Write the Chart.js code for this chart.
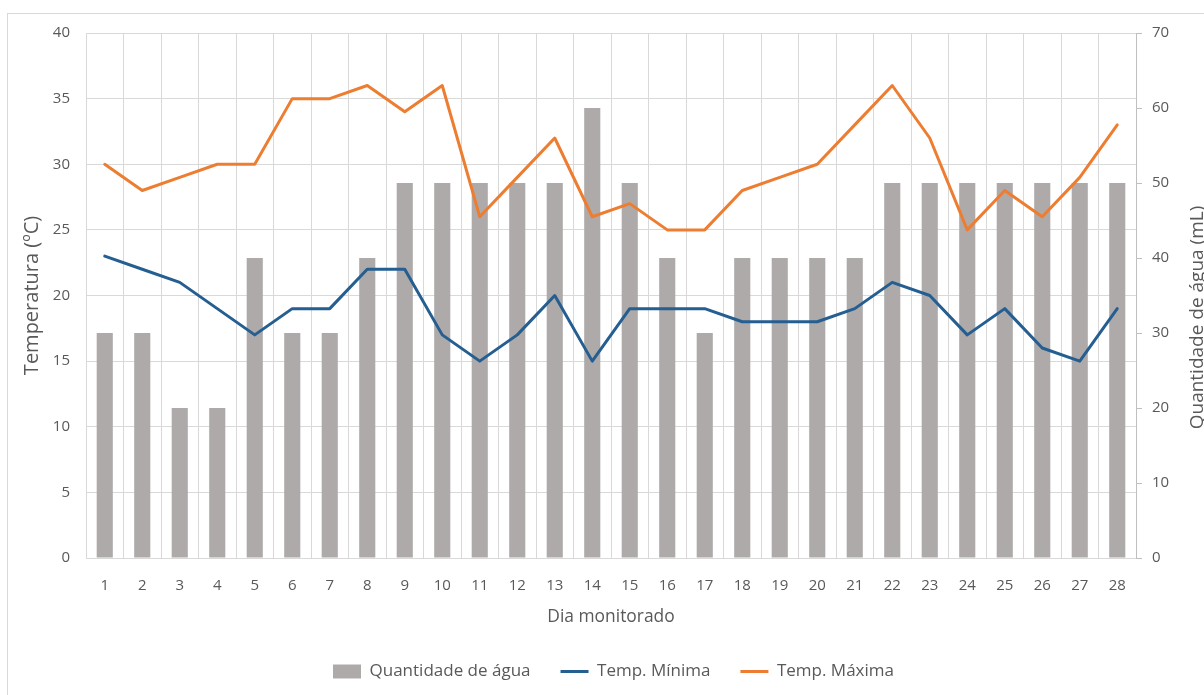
<!DOCTYPE html>
<html><head><meta charset="utf-8">
<script src="https://cdn.jsdelivr.net/npm/chart.js@4.4.0/dist/chart.umd.min.js"></script>
<style>
html,body{margin:0;padding:0;background:#fff;overflow:hidden;}
#frame{position:absolute;left:7px;top:13px;width:1400px;height:900px;border:1px solid #D9D9D9;box-sizing:border-box;}
#wrap{position:absolute;left:0;top:0;width:1204px;height:695px;}
</style></head><body>
<div id="frame"></div>
<div id="wrap"><canvas id="c" width="1204" height="695"></canvas></div>
<script>
const dias = ['1','2','3','4','5','6','7','8','9','10','11','12','13','14','15','16','17','18','19','20','21','22','23','24','25','26','27','28'];
const quantidadeAgua = [30,30,20,20,40,30,30,40,50,50,50,50,50,60,50,40,30,40,40,40,40,50,50,50,50,50,50,50];
const tempMinima = [23,22,21,19,17,19,19,22,22,17,15,17,20,15,19,19,19,18,18,18,19,21,20,17,19,16,15,19];
const tempMaxima = [30,28,29,30,30,35,35,36,34,36,26,29,32,26,27,25,25,28,29,30,33,36,32,25,28,26,29,33];

const FONT = '"Open Sans", "Noto Sans", sans-serif';
const TXT = '#595959';
const GRID = '#D9D9D9';

const rightTitle = {
  id: 'rightTitle',
  afterDraw(chart) {
    const ctx = chart.ctx; const s = chart.scales.y1;
    ctx.save();
    ctx.font = '19px ' + FONT;
    ctx.fillStyle = TXT;
    ctx.textAlign = 'center'; ctx.textBaseline = 'middle';
    ctx.translate(1198, (s.top + s.bottom) / 2 + 22);
    ctx.rotate(-Math.PI / 2);
    ctx.fillText('Quantidade de água (mL)', 0, 0);
    ctx.restore();
  }
};

new Chart(document.getElementById('c'), {
  type: 'bar',
  data: {
    labels: dias,
    datasets: [
      { type: 'bar', label: 'Quantidade de água', data: quantidadeAgua, yAxisID: 'y1',
        backgroundColor: '#AEAAAA', borderWidth: 0, barPercentage: 0.43, categoryPercentage: 1.0,
        pointStyle: 'rect', order: 2 },
      { type: 'line', label: 'Temp. Mínima', data: tempMinima, yAxisID: 'y',
        borderColor: '#255E91', backgroundColor: '#255E91', borderWidth: 3, pointRadius: 0, pointHoverRadius: 0,
        tension: 0, borderJoinStyle: 'round', borderCapStyle: 'round', pointStyle: 'line', order: 1 },
      { type: 'line', label: 'Temp. Máxima', data: tempMaxima, yAxisID: 'y',
        borderColor: '#ED7D31', backgroundColor: '#ED7D31', borderWidth: 3, pointRadius: 0, pointHoverRadius: 0,
        tension: 0, borderJoinStyle: 'round', borderCapStyle: 'round', pointStyle: 'line', order: 0 }
    ]
  },
  options: {
    responsive: false,
    devicePixelRatio: 1,
    animation: false,
    events: [],
    layout: { padding: { left: 23, right: 0, top: 33, bottom: 5 } },
    plugins: {
      tooltip: { enabled: false },
      legend: {
        position: 'bottom',
        labels: {
          usePointStyle: true, pointStyleWidth: 28, boxHeight: 14, padding: 30,
          color: TXT, font: { family: FONT, size: 17 },
          sort: (a, b) => a.datasetIndex - b.datasetIndex
        }
      }
    },
    scales: {
      x: {
        grid: { color: GRID, drawTicks: false, offset: true },
        border: { color: GRID },
        ticks: { color: TXT, font: { family: FONT, size: 15 }, padding: 19, maxRotation: 0, autoSkip: false },
        title: { display: true, text: 'Dia monitorado', color: TXT, font: { family: FONT, size: 17.4 }, padding: { top: 0, bottom: 6 } },
        afterFit(s) { s.height = 75; }
      },
      y: {
        position: 'left', min: 0, max: 40,
        ticks: { stepSize: 5, color: TXT, font: { family: FONT, size: 15 }, padding: 16 },
        grid: { color: GRID, drawTicks: false },
        border: { color: GRID },
        title: { display: true, text: 'Temperatura (ºC)', color: TXT, font: { family: FONT, size: 20, lineHeight: 1 }, padding: { top: -1, bottom: 0 } },
        afterFit(s) { s.width = 63; }
      },
      y1: {
        position: 'right', min: 0, max: 70,
        ticks: { stepSize: 10, color: TXT, font: { family: FONT, size: 15 }, padding: 10 },
        grid: { drawOnChartArea: false, drawTicks: true, tickLength: 6, color: '#BFBFBF' },
        border: { color: '#BFBFBF' },
        afterFit(s) { s.width = 68; }
      }
    }
  },
  plugins: [rightTitle]
});
</script>
</body></html>
